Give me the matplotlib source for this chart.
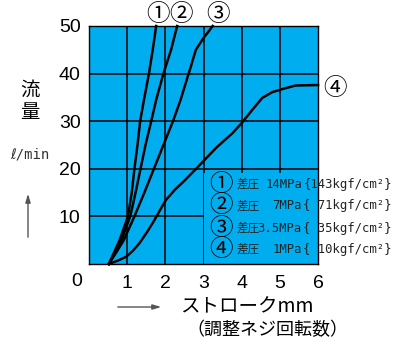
import matplotlib
matplotlib.use("Agg")
import matplotlib.pyplot as plt
from matplotlib.patches import Rectangle

plt.rcParams['font.family'] = ['Liberation Sans', 'Noto Sans CJK JP', 'DejaVu Sans']

# curves (stroke mm, flow l/min)
c1_x = [0.52, 0.66, 0.80, 1.02, 1.12, 1.19, 1.27, 1.34, 1.44, 1.57, 1.67, 1.76]
c1_y = [0, 2.5, 5, 10, 15, 20, 25, 30, 34.5, 40, 45, 50]
c2_x = [0.52, 0.68, 0.85, 1.08, 1.22, 1.35, 1.48, 1.63, 1.76, 1.95, 2.15, 2.31]
c2_y = [0, 2.5, 5, 10, 15, 20, 25, 30, 34.5, 40, 45, 50]
c3_x = [0.52, 0.72, 0.91, 1.19, 1.45, 1.70, 1.95, 2.20, 2.40, 2.61, 2.67,
        2.72, 2.80, 3.0, 3.12, 3.24]
c3_y = [0, 2.5, 5, 10, 15, 20, 25, 30, 34.5, 40, 41.5, 42.9, 45, 47.5,
        48.7, 50]
c4_x = [0.52, 0.75, 0.98, 1.15, 1.32, 1.52, 1.72, 1.88, 2.02, 2.25, 2.5,
        2.83, 3.33, 3.76, 4.0, 4.28, 4.54, 4.80, 5.0, 5.41, 6.0]
c4_y = [0, 0.7, 1.55, 2.8, 4.35, 6.7, 9.3, 11.6, 13.5, 15.6, 17.5,
        20.2, 24.4, 27.5, 29.6, 32.4, 34.9, 36.1, 36.6, 37.5, 37.6]

x_ticks = [1, 2, 3, 4, 5, 6]
y_ticks = [10, 20, 30, 40, 50]

marks = ['①', '②', '③', '④']
press_prefix = ['差圧', '差圧', '差圧', '差圧']
pressures = ['14MPa', '7MPa', '3.5MPa', '1MPa']
kgf = ['143', '71', '35', '10']

blue = '#00aeef'
ink = '#222222'
jp = ['Noto Sans CJK JP', 'DejaVu Sans']
mono = ['DejaVu Sans Mono', 'DejaVu Sans']

fig = plt.figure(figsize=(3.93, 3.44), dpi=100)
ax = fig.add_axes([89 / 393, 1 - 264 / 344, 229 / 393, 238 / 344])
ax.set_facecolor(blue)
ax.set_xlim(0, 6)
ax.set_ylim(0, 50)

for v in x_ticks[:-1]:
    ax.axvline(v, color='black', lw=1.1, zorder=1)
for v in y_ticks[:-1]:
    ax.axhline(v, color='black', lw=1.1, zorder=1)

# legend panel hides the grid
ax.add_patch(Rectangle((3.0, 0), 3.0, 19.2, facecolor=blue,
                       edgecolor='none', zorder=2))

for xs, ys in [(c1_x, c1_y), (c2_x, c2_y), (c3_x, c3_y), (c4_x, c4_y)]:
    ax.plot(xs, ys, color='black', lw=1.8, zorder=3, clip_on=False,
            solid_joinstyle='round')

for s in ax.spines.values():
    s.set_color('black')
    s.set_linewidth(1.0)

ax.set_xticks(x_ticks)
ax.set_yticks(y_ticks)
ax.tick_params(length=0, labelsize=14, pad=6)
ax.tick_params(axis='x', pad=8)
ax.text(-0.31, -3.6, '0', fontsize=14, ha='center', va='center',
        clip_on=False)

# curve labels
for mx, my, m in [(1.81, 52.4, '①'), (2.41, 52.4, '②'), (3.38, 52.4, '③'),
                  (6.44, 36.8, '④')]:
    ax.text(mx, my, m, fontsize=17, ha='center', va='center',
            family=jp, clip_on=False)

# legend rows
rows_y = [16.8, 12.2, 7.56, 3.15]
for i, ry in enumerate(rows_y):
    ax.text(3.46, ry, marks[i], fontsize=17, ha='center', va='center',
            family=jp, zorder=4)
    ax.text(3.86, ry, press_prefix[i], fontsize=8.4, ha='left',
            va='center', family=jp, zorder=4, color=ink)
    ax.text(5.58, ry, pressures[i], fontsize=8.8, ha='right', va='center',
            family=mono, zorder=4, color=ink)
    ax.text(5.62, ry, '{%3skgf/cm²}' % kgf[i], fontsize=8.8, ha='left',
            va='center', family=mono, zorder=4, color=ink, clip_on=False)

# y label
fig.text(30 / 393, 1 - 90 / 344, '流', fontsize=14, ha='center',
         va='center', family=jp)
fig.text(30 / 393, 1 - 113 / 344, '量', fontsize=14, ha='center',
         va='center', family=jp)
fig.text(30 / 393, 1 - 154 / 344, 'ℓ/min', fontsize=10, ha='center',
         va='center', family=mono, color='#333333')
ax.annotate('', xy=(28 / 393, 1 - 191 / 344), xytext=(28 / 393, 1 - 240 / 344),
            xycoords='figure fraction', textcoords='figure fraction',
            arrowprops=dict(arrowstyle='-|>,head_length=0.5,head_width=0.15',
                            color='#555555', lw=1.0))

# x label
ax.annotate('', xy=(164 / 393, 1 - 307 / 344), xytext=(115 / 393, 1 - 307 / 344),
            xycoords='figure fraction', textcoords='figure fraction',
            arrowprops=dict(arrowstyle='-|>,head_length=0.5,head_width=0.15',
                            color='#555555', lw=1.0))
fig.text(247 / 393, 1 - 307 / 344, 'ストロークmm', fontsize=14, ha='center',
         va='center', family=jp)
fig.text(267 / 393, 1 - 330 / 344, '（調整ネジ回転数）', fontsize=13,
         ha='center', va='center', family=jp)

fig.savefig('out.png', dpi=100)
